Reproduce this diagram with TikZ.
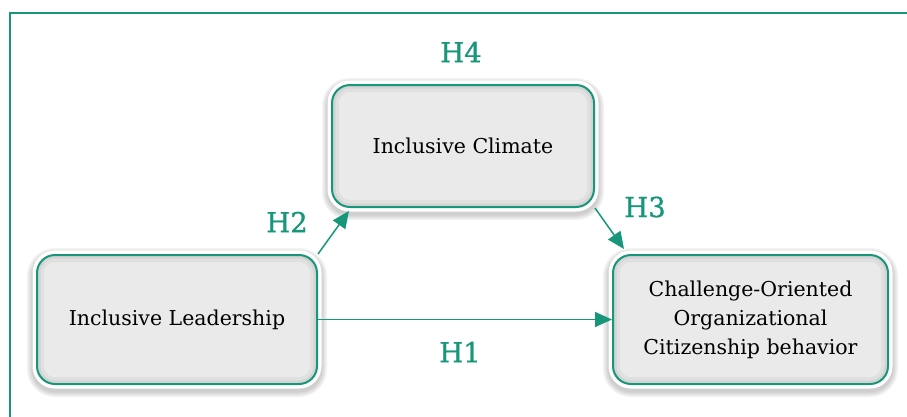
\documentclass[tikz,border=0pt]{standalone}
\usepackage{fontspec}
\setmainfont{DejaVu Serif}
\newfontfamily\hypfont[FakeBold=0.8]{DejaVu Serif}
\usetikzlibrary{arrows.meta}
\definecolor{hgreen}{HTML}{17967A}
\definecolor{boxgray}{HTML}{EAEAEA}
\begin{document}
\begin{tikzpicture}[x=1pt,y=-1pt,
  glow/.style={preaction={draw=black, opacity=0.05, line width=#1, transform canvas={yshift=-3pt}}},
  varbox/.style={draw=hgreen, line width=2pt, fill=boxgray, rounded corners=18pt,
    align=center, inner sep=0pt, font=\fontsize{20.5}{29}\selectfont,
    glow=20pt, glow=17pt, glow=14pt, glow=11pt,
    preaction={draw=white, line width=9pt},
    path picture={
      \draw[black, opacity=0.04, line width=14pt, rounded corners=18pt]
        (path picture bounding box.south west) rectangle (path picture bounding box.north east);
      \draw[black, opacity=0.05, line width=7pt, rounded corners=18pt]
        (path picture bounding box.south west) rectangle (path picture bounding box.north east);}},
  hlabel/.style={text=hgreen, font=\hypfont\fontsize{27.5}{29}\selectfont},
  hpath/.style={draw=hgreen, line width=1.5pt, -{Triangle[length=17pt,width=15pt]}}]
\useasboundingbox (0,0) rectangle (907,416);
\clip (0,0) rectangle (907,416);
% outer frame
\draw[hgreen, line width=2pt] (9.5,12.5) rectangle (930,440);
% variables
\node[varbox, minimum width=280pt, minimum height=129pt] (lead) at (177,319.5) {Inclusive Leadership};
\node[varbox, minimum width=262pt, minimum height=122pt] (climate) at (463,146) {Inclusive Climate};
\node[varbox, minimum width=275pt, minimum height=129pt] (cocb) at (750.5,319.5)
  {Challenge-Oriented\\Organizational\\Citizenship behavior};
% hypotheses
\draw[hpath] (lead.east) -- (cocb.west);
\draw[hpath] (lead.north east) -- ([xshift=18pt,yshift=-3pt]climate.south west);
\draw[hpath] (climate.south east) -- ([xshift=12pt,yshift=5pt]cocb.north west);
\node[hlabel] (h1) at (460,352) {H1};
\node[hlabel] (h2) at (287,222) {H2};
\node[hlabel] (h3) at (645,207) {H3};
\node[hlabel] (h4) at (461,52) {H4};
\end{tikzpicture}
\end{document}
